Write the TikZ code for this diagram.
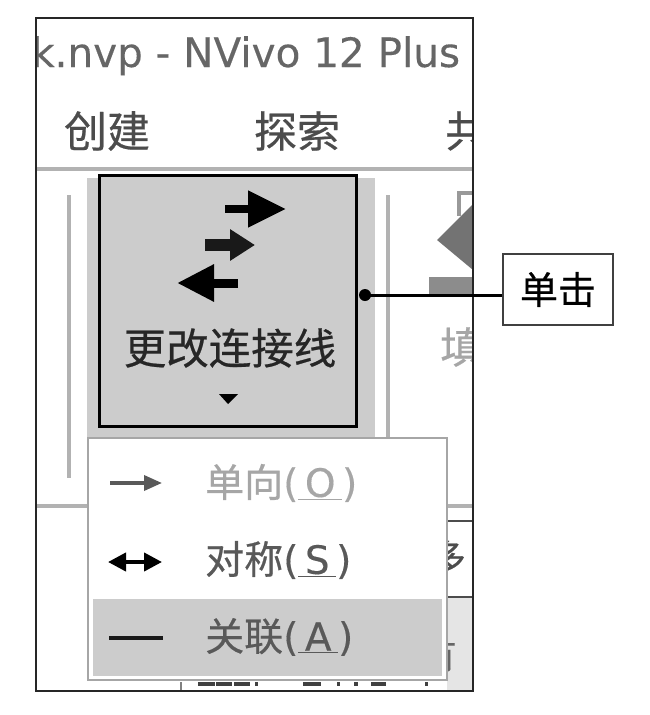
\documentclass[tikz,border=0pt]{standalone}
\usepackage{fontspec}
\setmainfont[FakeBold=0.5]{Noto Sans CJK SC}
\newfontfamily\latinfont[FakeBold=0.3]{DejaVu Sans}
\usetikzlibrary{arrows.meta}
\newcommand{\hotkey}[1]{{\latinfont\fontsize{39}{39}\selectfont(\underline{\,#1\,})}}
\begin{document}
\begin{tikzpicture}
  [
  x=1pt, y=-1pt, line cap=butt,
  title/.style={anchor=base west, inner sep=0pt, text=black!60, font=\latinfont\fontsize{40.5}{40}\selectfont},
  tab/.style={inner sep=0pt, text=black!70, font=\fontsize{43}{43}\selectfont},
  item/.style={anchor=west, inner sep=0pt, font=\fontsize{39}{39}\selectfont},
  groupline/.style={draw=black!30, line width=3.5pt},
  panel/.style={fill=black!20, draw=none}
  ]
\useasboundingbox (0,0) rectangle (650,715);

\begin{scope}
\clip (36,18) rectangle (473,691);
\node[title] (name) at (31,67) {k.nvp - NVivo 12 Plus};
\node[tab] (create) at (107,131) {创建};
\node[tab] (explore) at (297,131) {探索};
\node[tab, anchor=west] (share) at (445,131) {共};

\draw[groupline] (36,169) -- (473,169);
\draw[groupline] (69,195) -- (69,478);
\draw[groupline] (388,195) -- (388,505);
\draw[groupline] (36,506) -- (473,506);

% fill colour icon
\fill[black!55] (473,204) -- (437,240) -- (473,270) -- cycle;
\draw[black!40, line width=4pt] (459,216) -- (459,193) -- (473,193);
\fill[black!45] (429,277) rectangle (473,295);
\node[tab, text=black!35, anchor=west] (fillcolor) at (440,347) {填};

% panel behind the menu
\fill[black!10] (447,597) rectangle (473,691);
\draw[line width=2pt, black!70] (447,521) -- (473,521);
\draw[line width=2pt, black!70] (447,597) -- (473,597);
\node[tab, text=black!70, anchor=east, font=\fontsize{36}{36}\selectfont] (tail1) at (466,557) {多};
\node[tab, text=black!60, anchor=east, font=\fontsize{36}{36}\selectfont] (tail2) at (457,655) {有};
\foreach \x/\w in {198/17,216/16,234/16,255/3,303/18,337/3,354/4,371/15,425/3} {
  \fill[black!75] (\x,682) rectangle +(\w,4);
}
\draw[black!50, line width=1.5pt] (181,682) -- (181,690);
\end{scope}
\draw[line width=2pt, black!85] (36,18) rectangle (473,691);

% ribbon button
\fill[panel] (87,178) rectangle (375,440);
\node[draw=black, line width=3pt, fill=black!20, minimum width=257pt, minimum height=251pt, inner sep=0pt] (button) at (227.5,300.5) {};
\draw[line width=8pt, -{Triangle[length=38pt,width=35pt]}] (225,209) -- (286,209);
\draw[line width=12pt, black!90, -{Triangle[length=25pt,width=30pt]}] (205,245) -- (255,245);
\draw[line width=9pt, -{Triangle[length=37pt,width=35pt]}] (238,283) -- (177,283);
\node[tab, text=black!85, font=\fontsize{42.5}{42}\selectfont] (change) at (230,348) {更改连接线};
\fill[black] (219,394) -- (238,394) -- (228,404) -- cycle;

% drop down menu
\node[draw=black!35, line width=2pt, fill=white, minimum width=359pt, minimum height=242pt, inner sep=0pt] (menu) at (267.5,559) {};
\fill[panel] (93,599) rectangle (442,676);
\node[item, text=black!35] (single) at (205,483) {单向\hotkey{O}};
\node[item, text=black!65] (symm) at (205,560) {对称\hotkey{S}};
\node[item, text=black!65] (assoc) at (205,637) {关联\hotkey{A}};
\draw[line width=3.5pt, black!65, -{Triangle[length=18pt,width=15pt]}] (110,483) -- (162,483);
\draw[line width=4pt, black, {Triangle[length=18pt,width=18pt]}-{Triangle[length=18pt,width=18pt]}] (108,562) -- (162,562);
\draw[line width=4pt, black!90] (109,638) -- (163,638);

% callout
\node[draw=black!75, line width=1.5pt, minimum width=110pt, minimum height=71pt, inner sep=0pt, font=\fontsize{38}{38}\selectfont] (click) at (558,289.5) {单击};
\coordinate (clicktip) at (365,295);
\fill (clicktip) circle (6pt);
\draw[line width=3pt] (click.west |- clicktip) -- (clicktip);
\end{tikzpicture}
\end{document}
